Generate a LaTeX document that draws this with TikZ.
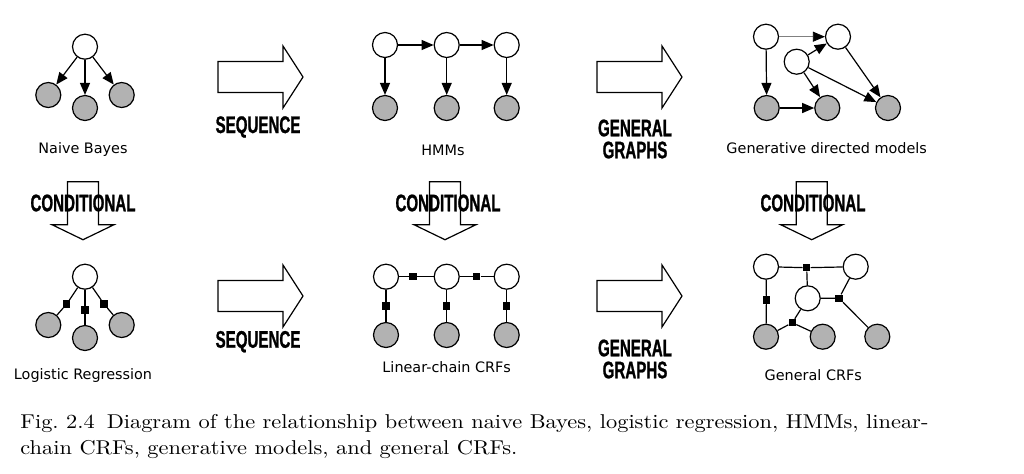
\documentclass[tikz,border=0pt]{standalone}
\usepackage{fontspec}
\usetikzlibrary{arrows.meta}
\newfontfamily\labelfont{DejaVu Sans}
\newfontfamily\blockfont[UprightFont={* Bold},FakeStretch=0.63,FakeBold=1]{Liberation Sans}
\newfontfamily\capfont[FakeStretch=1.12]{Latin Modern Roman}

\begin{document}
\begin{tikzpicture}[x=0.5pt, y=-0.5pt, >={Triangle[length=6pt,width=5pt]},
	var/.style={circle, draw, fill=white, line width=0.6pt, minimum size=12.5pt, inner sep=0pt},
	obs/.style={var, fill=black!30},
	factor/.style={rectangle, fill=black, minimum size=3.6pt, inner sep=0pt},
	link/.style={line width=0.6pt},
	modelname/.style={font=\labelfont\fontsize{7.2}{8}\selectfont},
	optext/.style={font=\blockfont\fontsize{12}{11}\selectfont, align=center, inner sep=0pt},
	pics/bigarrow/.style 2 args={code={
		\draw[line width=0.6pt] (0,-15.5) -- ({#1-#2},-15.5) -- ({#1-#2},-31) -- (#1,0)
			-- ({#1-#2},31) -- ({#1-#2},15.5) -- (0,15.5) -- cycle;
	}}
]
\useasboundingbox (0,0) rectangle (1024,473);

% naive Bayes
\node[var] (nb) at (85,46.7) {};
\node[obs] (nb1) at (48.3,95) {};
\node[obs] (nb2) at (85,108) {};
\node[obs] (nb3) at (121.7,95) {};
\foreach \i in {1,2,3} \draw[link,->] (nb) -- (nb\i);
\node[modelname] (nblabel) at (83,150) {Naive Bayes};

% HMMs
\foreach \i/\x in {1/385,2/446.7,3/506.7}{
	\node[var] (h\i) at (\x,45) {};
	\node[obs] (hx\i) at (\x,108) {};
	\draw[link,->] (h\i) -- (hx\i);
}
\draw[link,->] (h1) -- (h2);
\draw[link,->] (h2) -- (h3);
\node[modelname] (hmmlabel) at (443,150) {HMMs};

% generative directed models
\node[var] (ga) at (766,36.7) {};
\node[var] (gb) at (838,36.7) {};
\node[var] (gc) at (796.7,61.7) {};
\node[obs] (gd) at (766.7,108) {};
\node[obs] (ge) at (827.3,108) {};
\node[obs] (gf) at (888,108) {};
\draw[line width=0.4pt, gray, -{Triangle[length=6pt,width=5pt,color=black]}] (ga) -- (gb);
\foreach \a/\b in {ga/gd,gd/ge,gc/gb,gc/ge,gc/gf,gb/gf} \draw[link,->] (\a) -- (\b);
\node[modelname] (genlabel) at (826.7,148) {Generative directed models};

% block arrows
\pic at (218,77) {bigarrow={85}{20}};
\pic at (597,77) {bigarrow={85}{20}};
\pic at (218,296) {bigarrow={85}{20}};
\pic at (597,296) {bigarrow={85}{20}};
\foreach \x in {83,445,811.7} \pic[rotate=-90] at (\x,181.7) {bigarrow={58}{15}};

\node[optext] (seq1) at (258,127) {SEQUENCE};
\node[optext] (seq2) at (258,341.7) {SEQUENCE};
\node[optext] (gg1) at (635,139) {GENERAL\\GRAPHS};
\node[optext] (gg2) at (635,359) {GENERAL\\GRAPHS};
\node[optext] (cond1) at (83,203) {CONDITIONAL};
\node[optext] (cond2) at (448,203) {CONDITIONAL};
\node[optext] (cond3) at (813,203) {CONDITIONAL};

% logistic regression
\node[var] (lr) at (85,276.7) {};
\node[obs] (lr1) at (48.3,325) {};
\node[obs] (lr2) at (85,338) {};
\node[obs] (lr3) at (121.7,325) {};
\node[factor] (lrf1) at (66.7,304) {};
\node[factor] (lrf2) at (85,310) {};
\node[factor] (lrf3) at (104,304) {};
\foreach \i in {1,2,3} \draw[link] (lr) -- (lrf\i) -- (lr\i);
\node[modelname] (lrlabel) at (83,376) {Logistic Regression};

% linear-chain CRFs
\foreach \i/\x in {1/386,2/446.7,3/506.7}{
	\node[var] (c\i) at (\x,276.7) {};
	\node[obs] (cx\i) at (\x,335) {};
	\node[factor] (cf\i) at (\x,306) {};
	\draw[link] (c\i) -- (cf\i) -- (cx\i);
}
\node[factor] (cg1) at (413,276.7) {};
\node[factor] (cg2) at (476.7,276.7) {};
\draw[link] (c1) -- (cg1) -- (c2);
\draw[link] (c2) -- (cg2) -- (c3);
\node[modelname] (lclabel) at (446.7,366.7) {Linear-chain CRFs};

% general CRFs
\node[var] (ua) at (766,266.7) {};
\node[var] (ub) at (855.7,266.7) {};
\node[var] (uc) at (807.7,298.3) {};
\node[obs] (ud) at (766,336.7) {};
\node[obs] (ue) at (822.7,336.7) {};
\node[obs] (uf) at (877.3,336.7) {};
\node[factor] (uf1) at (806.7,267.7) {};
\node[factor] (uf2) at (766.4,300) {};
\node[factor] (uf3) at (839,298.3) {};
\node[factor] (uf4) at (792.3,322.7) {};
\draw[link] (ua) -- (uf1) -- (ub);
\draw[link] (uf1) -- (uc);
\draw[link] (ua) -- (uf2) -- (ud);
\draw[link] (uc) -- (uf3) -- (ub);
\draw[link] (uf3) -- (uf);
\draw[link] (uc) -- (uf4) -- (ud);
\draw[link] (uf4) -- (ue);
\node[modelname] (gclabel) at (813.3,375) {General CRFs};

\node[anchor=north west, align=left, inner sep=0pt, font=\capfont\fontsize{10}{13}\selectfont] (caption) at (20,414)
	{Fig.~2.4\hspace{0.6em}Diagram of the relationship between naive Bayes, logistic regression, HMMs, linear-\\
	chain CRFs, generative models, and general CRFs.};
\end{tikzpicture}
\end{document}
